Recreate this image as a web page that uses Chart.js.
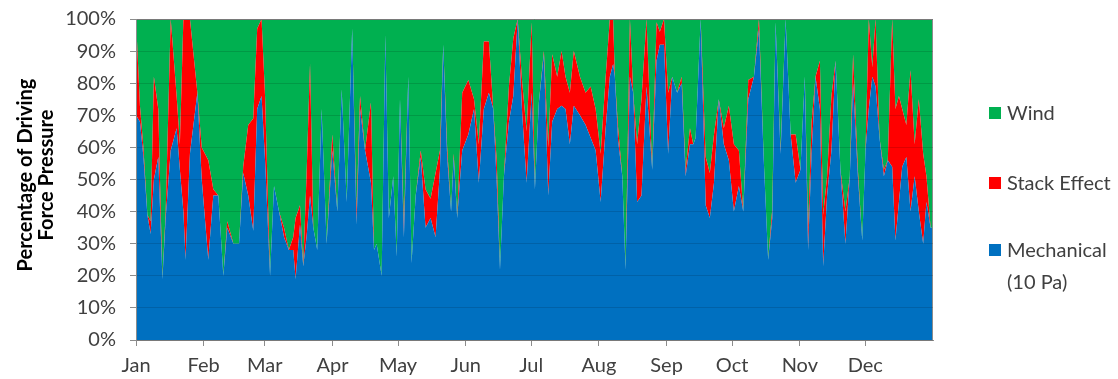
<!DOCTYPE html>
<html><head><meta charset="utf-8">
<script src="https://cdn.jsdelivr.net/npm/chart.js@4.4.1/dist/chart.umd.min.js"></script>
<style>html,body{margin:0;padding:0;background:#fff;}canvas{display:block;}</style>
</head><body>
<canvas id="c" width="1118" height="379"></canvas>
<script>
// Day of year for each sample
const day = [0,1.8,3.4,5.2,6.7,8.2,10.2,12.1,13.6,15.9,18.6,20.1,21.7,22.7,24.7,28.1,30.1,33.1,35.4,
 37.7,40,41.8,44.6,47.2,49.1,51.4,53.7,55.5,57.5,59.1,61.4,63.2,65.5,67.8,70,72,
 73.1,75.1,76.6,78.1,79.7,81.2,83,85,87.3,89.9,92.2,94.2,96.5,99,101,102.6,104.9,107.6,109,
 110.2,112.5,114.2,115.8,117.8,119.4,120.9,122.7,124.7,126.2,128.1,130.4,132.6,134.9,137.2,139.2,140.7,142.5,144.3,
 145.5,147.1,149.4,152.2,154.8,157,159.3,161.6,163.6,165.2,166.7,168.5,170.8,172.8,174.8,176.9,178.9,181.2,
 182.7,184.5,186.8,188.8,190.6,192.9,194.9,196.7,198.7,200.5,203.3,205.9,208.2,210.5,212.8,215.1,217,218.5,
 219.3,220.8,222.7,224.2,226.2,227.7,229.5,231.5,233.8,236.4,238.4,239.9,241.8,243.7,245.6,247.8,249.9,251.7,253.7,255.2,
 256.3,258.6,260.9,262.8,264.7,266.9,269.2,271.5,273.8,276.1,278.1,280.4,283,285.3,287.5,289.5,291.4,
 292.9,295.2,297.5,299.8,302.1,304.3,306.3,307.8,309.4,311.2,313.2,314.7,316.5,318.5,320.4,322.6,324.9,326.9,328.4,
 330.6,332.6,334.1,335.6,337.2,338.7,340.5,342.5,344.3,346.3,347.8,349.4,350.9,352.8,354.7,356.6,358.5,360.5,362,363.9,365];

// Mechanical (10 Pa) share, %
const mechanical = [70,68,57,39,33,50,57,19,38,59,66,53,40,25,58,77,50,25,45,
 45,20,35,30,30,52,45,34,72,76,56,20,48,40,32,28,28,
 19,36,23,32,45,35,28,72,30,59,40,78,43,97,36,72,59,49,28,
 30,20,95,38,51,26,75,32,82,24,45,57,35,38,32,53,92,57,40,
 57,38,59,64,72,49,72,77,72,49,22,51,68,76,100,70,49,77,
 47,74,89,45,68,72,73,72,61,73,70,67,63,59,43,66,82,86,
 82,62,51,22,82,77,43,45,79,53,87,92,92,58,82,77,80,51,61,61,
 63,100,42,38,49,75,61,56,40,48,40,75,82,97,56,25,38,
 99,58,100,64,49,53,82,28,58,82,72,23,45,59,87,53,30,51,80,
 51,31,59,72,82,79,63,51,56,54,31,43,54,57,40,51,40,30,43,35,35];

// Stack Effect share, %
const stackEffect = [30,5,3,0,4,32,15,0,2,41,10,8,60,75,42,0,10,31,2,
 0,0,2,0,0,2,22,35,25,24,20,0,0,0,3,0,4,
 19,6,0,19,41,0,0,0,0,5,0,0,0,0,4,4,0,25,0,
 0,0,0,0,0,0,0,4,0,0,0,2,12,6,20,6,0,3,0,
 1,0,18,17,3,12,21,16,0,7,0,0,11,18,0,10,16,22,
 0,0,1,15,21,10,17,10,16,17,12,10,16,13,15,16,18,14,
 0,4,0,0,18,0,18,30,21,0,12,4,8,19,0,0,2,2,5,0,
 0,0,15,14,15,0,5,17,21,11,0,6,0,3,0,0,3,
 0,1,0,0,15,0,0,6,10,0,15,16,6,17,0,0,10,0,9,
 2,0,0,28,3,21,0,2,0,46,41,33,18,10,44,10,35,28,8,0,0];

// Wind share: remainder of the 100% stack
const wind = mechanical.map((m, i) => Math.max(0, 100 - m - stackEffect[i]));

const monthStarts = [0,31,59,90,120,151,181,212,243,273,304,334];
const monthLabels = ['Jan','Feb','Mar','Apr','May','Jun','Jul','Aug','Sep','Oct','Nov','Dec'];
const yTicks = [0,10,20,30,40,50,60,70,80,90,100];

const seriesNames = ['Mechanical', 'Stack Effect', 'Wind'];
const colors = ['#0070C0', '#FF0000', '#00B050'];
const FONT = 'Lato, "Liberation Sans", sans-serif';
const TXT = '#404040';

function pts(arr){ return day.map((d,i)=>({x:d, y:arr[i]})); }

const framePlugin = {
  id:'frame',
  afterDatasetsDraw(chart){
    const a = chart.chartArea, ctx = chart.ctx;
    ctx.save();
    ctx.strokeStyle = '#8c8c8c'; ctx.lineWidth = 1;
    ctx.beginPath();
    ctx.moveTo(a.left, a.top+0.5); ctx.lineTo(a.right, a.top+0.5);
    ctx.moveTo(a.right-0.5, a.top); ctx.lineTo(a.right-0.5, a.bottom);
    ctx.stroke();
    ctx.restore();
  }
};

const textPlugin = {
  id:'texts',
  afterDraw(chart){
    const ctx = chart.ctx;
    ctx.save();
    // legend
    const items = [
      {c: colors[2], lines:['Wind'], y:113},
      {c: colors[1], lines:['Stack Effect'], y:183},
      {c: colors[0], lines:['Mechanical','(10 Pa)'], y:250}
    ];
    ctx.font = '20px ' + FONT;
    ctx.textBaseline = 'middle';
    ctx.textAlign = 'left';
    items.forEach(it=>{
      ctx.fillStyle = it.c;
      ctx.fillRect(989, it.y-6, 12, 12);
      ctx.fillStyle = TXT;
      it.lines.forEach((t,k)=> ctx.fillText(t, 1007, it.y + 1 + k*32));
    });
    // y-axis title
    ctx.font = 'bold 20px ' + FONT;
    ctx.fillStyle = '#000';
    ctx.textAlign = 'center';
    const cy = 175;
    [['Percentage of Driving', 26], ['Force Pressure', 47]].forEach(([t, x])=>{
      ctx.save();
      ctx.translate(x, cy);
      ctx.rotate(-Math.PI/2);
      ctx.fillText(t, 0, 0);
      ctx.restore();
    });
    ctx.restore();
  }
};

new Chart(document.getElementById('c'), {
  type:'line',
  data:{
    datasets:[
      {label:seriesNames[0], data:pts(mechanical), backgroundColor:colors[0], borderColor:colors[0], borderWidth:0, fill:'origin', pointRadius:0, tension:0},
      {label:seriesNames[1], data:pts(stackEffect), backgroundColor:colors[1], borderColor:colors[1], borderWidth:0, fill:'-1', pointRadius:0, tension:0},
      {label:seriesNames[2], data:pts(wind), backgroundColor:colors[2], borderColor:colors[2], borderWidth:0, fill:'-1', pointRadius:0, tension:0}
    ]
  },
  options:{
    responsive:false, animation:false, devicePixelRatio:1,
    layout:{padding:{left:0, right:185, top:19, bottom:0}},
    plugins:{legend:{display:false}, tooltip:{enabled:false}},
    scales:{
      x:{
        type:'linear', min:0, max:365,
        afterBuildTicks(s){ s.ticks = monthStarts.map(v=>({value:v})); },
        afterFit(s){ s.height = 39; s.paddingLeft = 0; s.paddingRight = 0; },
        ticks:{callback:(v)=>{const i=monthStarts.indexOf(v); return i>=0?monthLabels[i]:'';}, font:{family:FONT, size:20}, color:TXT, padding:8, maxRotation:0, autoSkip:false},
        grid:{drawOnChartArea:false, drawTicks:true, tickLength:6, color:'#8c8c8c'},
        border:{color:'#8c8c8c'}
      },
      y:{
        stacked:true, min:0, max:100,
        afterBuildTicks(s){ s.ticks = yTicks.map(v=>({value:v})); },
        afterFit(s){ s.width = 136; s.paddingTop = 0; s.paddingBottom = 0; },
        ticks:{callback:(v)=>v+'%', font:{family:FONT, size:20}, color:TXT, padding:14},
        grid:{color:'rgba(0,0,0,0.13)', tickColor:'#8c8c8c', tickLength:6, z:1},
        border:{color:'#8c8c8c', z:2}
      }
    }
  },
  plugins:[framePlugin, textPlugin]
});
</script>
</body></html>
